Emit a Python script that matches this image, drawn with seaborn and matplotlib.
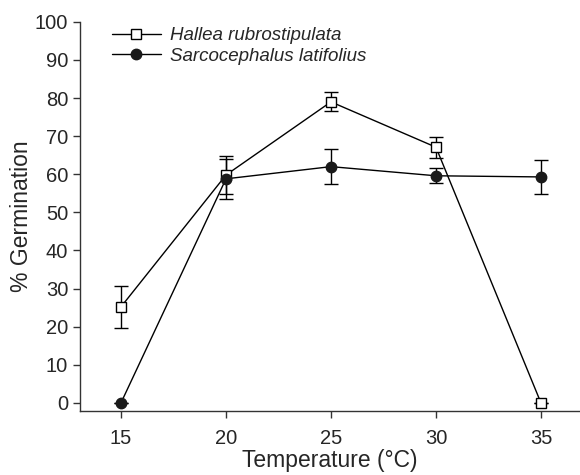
import matplotlib
matplotlib.use("Agg")
import matplotlib.pyplot as plt
import seaborn as sns
import pandas as pd

temps = [15, 20, 25, 30, 35]
hallea = [25.2, 59.8, 79.0, 67.1, 0.0]
hallea_err = [5.5, 5.0, 2.5, 2.8, 0.0]
sarco = [0.0, 58.8, 62.0, 59.6, 59.3]
sarco_err = [0.0, 5.3, 4.6, 2.0, 4.5]
names = ["Hallea rubrostipulata", "Sarcocephalus latifolius"]

sns.set_theme(style="ticks")
plt.rcParams['font.family'] = ['Liberation Sans', 'DejaVu Sans']

df = pd.DataFrame({
    "Temperature": temps * 2,
    "Germination": hallea + sarco,
    "Species": [names[0]] * 5 + [names[1]] * 5,
})

fig = plt.figure(figsize=(5.8, 4.75), dpi=100)
ax = fig.add_axes([0.138, 0.135, 0.862, 0.819])

styles = {
    names[0]: dict(marker="s", mfc="white", mec="black", ms=7, mew=1.0),
    names[1]: dict(marker="o", mfc="#1a1a1a", mec="#1a1a1a", ms=7.5, mew=1.0),
}
errs = {names[0]: hallea_err, names[1]: sarco_err}

for name in names:
    sub = df[df.Species == name]
    ax.errorbar(sub.Temperature, sub.Germination, yerr=errs[name], fmt="none",
                ecolor="black", elinewidth=1.0, capsize=5, capthick=1.0, zorder=2)
    sns.lineplot(data=sub, x="Temperature", y="Germination", ax=ax,
                 color="black", linewidth=1.0, label=name, zorder=3,
                 **styles[name])

ax.set_xlim(13.05, 36.86)
ax.set_ylim(-2.1, 100)
ax.set_xticks(temps)
ax.set_yticks(range(0, 101, 10))
ax.tick_params(labelsize=14.5, length=5, width=1, color="#333333", direction="out")
ax.tick_params(axis="x", pad=8)
ax.set_xlabel("Temperature (°C)", fontsize=16.5, labelpad=1)
ax.set_ylabel("% Germination", fontsize=16.5, labelpad=1)
for s in ["top", "right"]:
    ax.spines[s].set_visible(False)
for s in ["left", "bottom"]:
    ax.spines[s].set_linewidth(1.0)
    ax.spines[s].set_color("#333333")
ax.spines["left"].set_bounds(-2.1, 100)

leg = ax.legend(loc="upper left", bbox_to_anchor=(0.03, 1.03), frameon=False,
                prop=dict(style="italic", size=13.5), handlelength=2.6,
                handletextpad=0.5, labelspacing=0.2)

fig.savefig("out.png", dpi=100)
